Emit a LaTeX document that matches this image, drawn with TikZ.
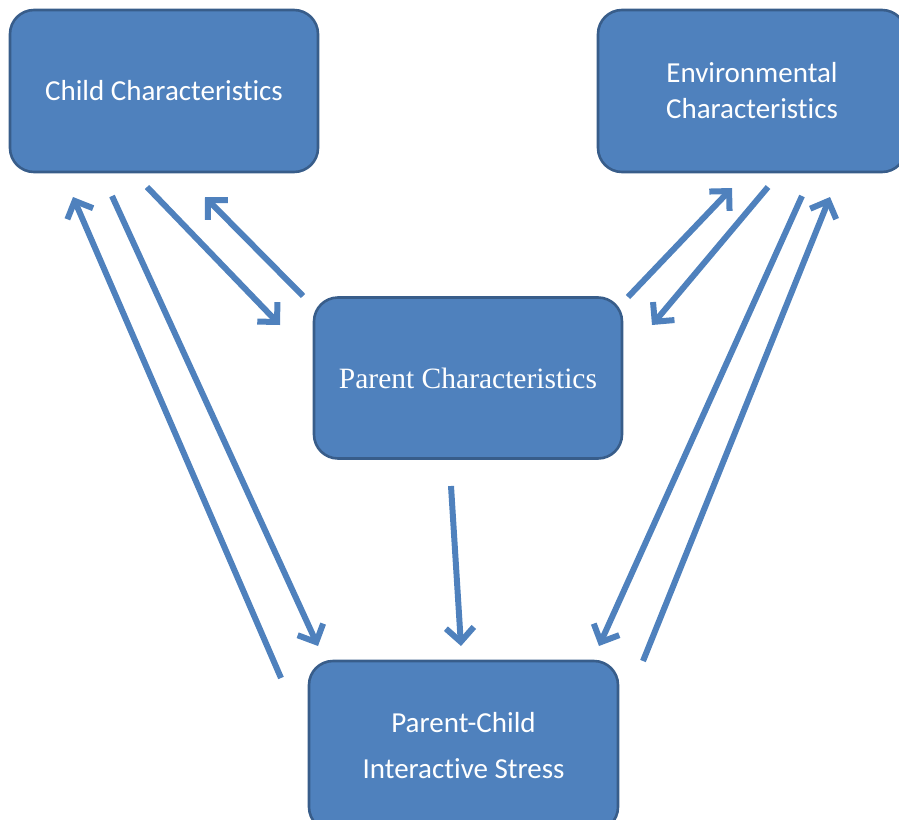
\documentclass[tikz,border=0pt]{standalone}
\usepackage{fontspec}
\setmainfont{Carlito}[Ligatures=NoCommon]
\newfontfamily\serifface{Liberation Serif}
\usetikzlibrary{arrows.meta}
\definecolor{boxfill}{HTML}{4F81BD}
\definecolor{boxline}{HTML}{385D8A}
\definecolor{arrowcol}{HTML}{4F81BD}
\tikzset{
  bluebox/.style={draw=boxline, line width=2.6pt, fill=boxfill, rounded corners=24pt,
    text=white, align=center, inner sep=0pt, font=\fontsize{29}{36}\selectfont},
  conn/.style={draw=arrowcol, line width=6pt,
    -{Straight Barb[length=14pt, width=28pt, line width=6pt]}}
}
\begin{document}
\begin{tikzpicture}[x=1pt,y=-1pt]
\useasboundingbox (0,0) rectangle (899,819);
\clip (0,0) rectangle (899,819);
% boxes
\node[bluebox, minimum width=308pt, minimum height=162pt] (child) at (164,91) {Child Characteristics};
\node[bluebox, minimum width=308pt, minimum height=162pt] (env) at (752,91) {Environmental\\Characteristics};
\node[bluebox, minimum width=308pt, minimum height=161pt, font=\serifface\fontsize{29.5}{30}\selectfont] (parent) at (468,378) {Parent Characteristics};
\node[bluebox, minimum width=309pt, minimum height=170pt, font=\fontsize{29}{46}\selectfont] (stress) at (463.5,746) {Parent-Child\\Interactive Stress};
% connector end points
\coordinate (c1s) at (147,187); \coordinate (c1e) at (280,325);
\coordinate (c2s) at (303,296); \coordinate (c2e) at (205,197);
\coordinate (c3s) at (112,196); \coordinate (c3e) at (318,646);
\coordinate (c4s) at (281,678); \coordinate (c4e) at (73,197);
\coordinate (c5s) at (451,486); \coordinate (c5e) at (461,646);
\coordinate (c6s) at (628,297); \coordinate (c6e) at (732,188);
\coordinate (c7s) at (768,187); \coordinate (c7e) at (652,325);
\coordinate (c8s) at (802,196); \coordinate (c8e) at (599,646);
\coordinate (c9s) at (643,661); \coordinate (c9e) at (830,197);
% connectors
\draw[conn] (c1s) -- (c1e);
\draw[conn] (c2s) -- (c2e);
\draw[conn] (c3s) -- (c3e);
\draw[conn] (c4s) -- (c4e);
\draw[conn] (c5s) -- (c5e);
\draw[conn] (c6s) -- (c6e);
\draw[conn] (c7s) -- (c7e);
\draw[conn] (c8s) -- (c8e);
\draw[conn] (c9s) -- (c9e);
\end{tikzpicture}
\end{document}
